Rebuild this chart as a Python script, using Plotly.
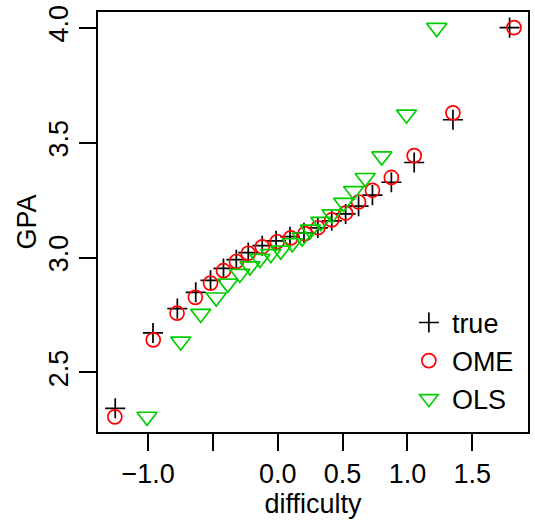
import plotly.graph_objects as go

# true values
true_x = [-1.254, -0.963, -0.775, -0.633, -0.519, -0.419, -0.320, -0.228, -0.120, -0.013,
          0.094, 0.202, 0.309, 0.416, 0.523, 0.623, 0.730, 0.876, 1.052, 1.351, 1.788]
true_y = [2.344, 2.672, 2.778, 2.849, 2.901, 2.953, 2.991, 3.022, 3.052, 3.073,
          3.091, 3.108, 3.129, 3.160, 3.190, 3.224, 3.272, 3.328, 3.414, 3.600, 4.001]
# OME estimates
ome_x = [-1.257, -0.961, -0.777, -0.636, -0.519, -0.419, -0.319, -0.228, -0.120, -0.005,
         0.100, 0.210, 0.310, 0.416, 0.523, 0.623, 0.730, 0.876, 1.052, 1.351, 1.822]
ome_y = [2.307, 2.642, 2.758, 2.827, 2.889, 2.943, 2.983, 3.019, 3.047, 3.069,
         3.086, 3.104, 3.130, 3.164, 3.194, 3.242, 3.293, 3.349, 3.444, 3.630, 4.001]
# OLS estimates
ols_x = [-1.009, -0.749, -0.595, -0.475, -0.386, -0.293, -0.215, -0.138, -0.054, 0.023,
         0.112, 0.188, 0.251, 0.332, 0.418, 0.508, 0.585, 0.674, 0.802, 0.993, 1.226]
ols_y = [2.308, 2.635, 2.756, 2.827, 2.887, 2.930, 2.962, 2.995, 3.016, 3.031,
         3.063, 3.088, 3.122, 3.156, 3.189, 3.239, 3.290, 3.347, 3.441, 3.623, 4.000]

x_tickvals = [-1.0, -0.5, 0.0, 0.5, 1.0, 1.5]
x_ticktext = ["\u22121.0", "", "0.0", "0.5", "1.0", "1.5"]
y_tickvals = [2.5, 3.0, 3.5, 4.0]
y_ticktext = ["2.5", "3.0", "3.5", "4.0"]

FONT = "Liberation Sans, Arial, sans-serif"
LW = 1.7

fig = go.Figure()
fig.add_trace(go.Scatter(x=true_x, y=true_y, mode="markers", name="true",
                         marker=dict(symbol="cross-thin-open", size=14.3, color="black",
                                     line=dict(color="black", width=LW))))
fig.add_trace(go.Scatter(x=ome_x, y=ome_y, mode="markers", name="OME",
                         marker=dict(symbol="circle-open", size=14, color="#FF0000",
                                     line=dict(color="#FF0000", width=LW))))
fig.add_trace(go.Scatter(x=ols_x, y=ols_y, mode="markers", name="OLS",
                         marker=dict(symbol="triangle-down-open", size=17.5, color="#00CD00",
                                     line=dict(color="#00CD00", width=LW))))

axis_common = dict(showgrid=False, zeroline=False, showline=True, mirror=True,
                   linecolor="black", linewidth=LW, ticks="outside", ticklen=17,
                   tickwidth=LW, tickcolor="black",
                   tickfont=dict(family=FONT, size=27, color="black"))

fig.update_layout(
    width=535, height=522,
    margin=dict(l=98, r=5, t=8, b=90),
    paper_bgcolor="white", plot_bgcolor="white",
    font=dict(family=FONT, size=27, color="black"),
    xaxis=dict(range=[-1.387, 1.930], tickmode="array", tickvals=x_tickvals,
               ticktext=x_ticktext,
               title=dict(text="difficulty", font=dict(family=FONT, size=27), standoff=5),
               **axis_common),
    yaxis=dict(range=[2.241, 4.069], tickmode="array", tickvals=y_tickvals,
               ticktext=y_ticktext, tickangle=-90,
               title=dict(text="GPA", font=dict(family=FONT, size=27), standoff=0),
               **axis_common),
    legend=dict(x=0.716, y=0.318, xanchor="left", yanchor="top",
                bgcolor="rgba(0,0,0,0)", borderwidth=0,
                font=dict(family=FONT, size=27, color="black"),
                itemwidth=36, tracegroupgap=0),
    showlegend=True,
)

fig.write_html("out.html")
